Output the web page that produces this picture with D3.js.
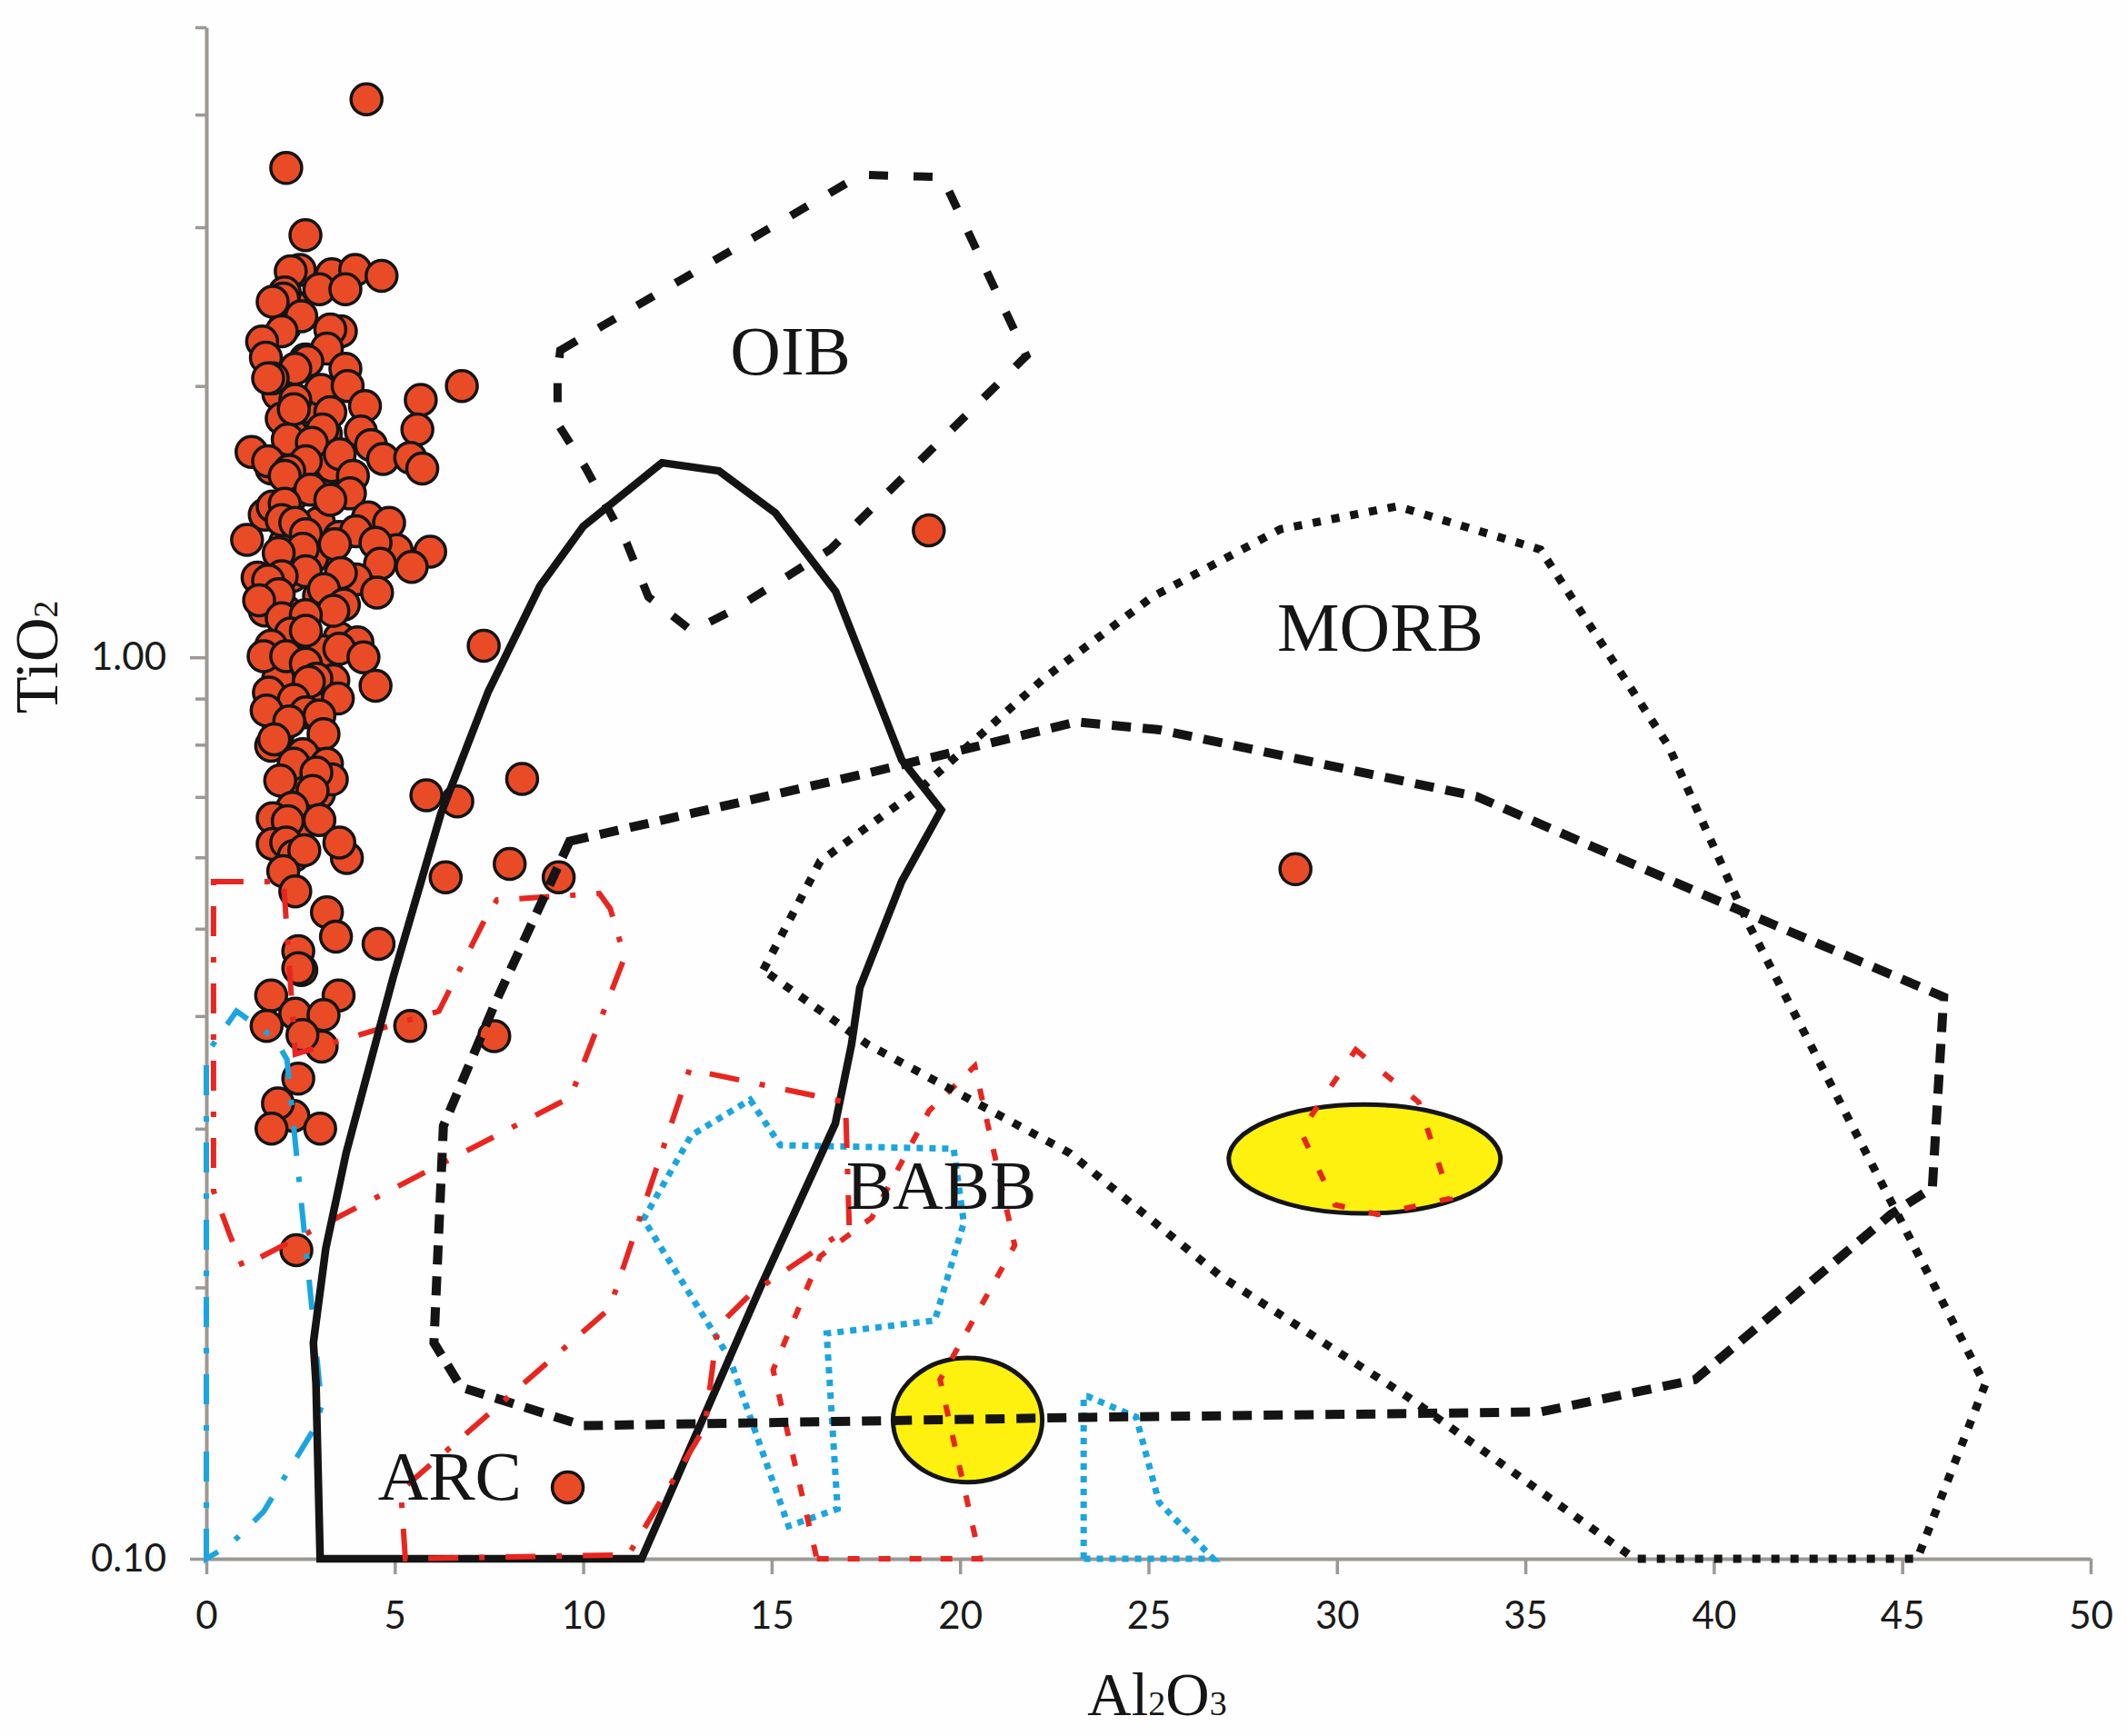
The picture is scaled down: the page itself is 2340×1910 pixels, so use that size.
<!DOCTYPE html>
<html>
<head>
<meta charset="utf-8">
<script src="https://cdn.jsdelivr.net/npm/d3@7"></script>
<style>
html, body { margin: 0; padding: 0; background: #fefefe; }
svg { display: block; }
</style>
</head>
<body>
<script>
// samples, [Al2O3, TiO2]. the first rows sit at the back of the cluster
var samples = [
	[2.27,1.41],[2.99,1.41],[2.09,1.34],[2.81,1.29],[3.53,1.36],[2.27,1.23],[2.99,1.17],[3.71,1.21],[2.09,1.127],[1.55,1.127],
	[2.63,1.05],[2.16,1.03],[3.53,1.05],[3.09,1.016],[1.91,0.948],[2.99,0.916],[2.45,0.869],[1.91,0.825],[2.81,0.77],[2.27,0.718],
	[2.45,0.647],[1.91,0.625],[2.99,0.706],[2.63,2.14],[1.91,1.96],[2.63,1.895],[2.27,1.77],[3.17,1.77],[1.73,1.62],[2.63,1.59],
	[3.35,1.62],[2.27,1.51],[3.17,1.51],[1.55,1.44],[2.27,2.46],[2.09,2.33],
	[4.25,4.16],[2.12,3.49],[2.63,2.94],[2.48,2.69],[2.24,2.68],[3.33,2.66],[3.95,2.69],[4.65,2.65],[3.0,2.56],[3.69,2.56],
	[2.08,2.54],[2.04,2.50],[1.76,2.48],[2.52,2.39],[2.0,2.30],[3.57,2.30],[3.29,2.31],[1.48,2.24],[3.2,2.20],[1.58,2.15],
	[2.68,2.13],[2.36,2.09],[3.69,2.09],[1.76,2.04],[1.64,2.04],[3.04,1.98],[3.75,2.00],[4.21,1.90],[5.69,1.93],[6.78,2.00],
	[2.36,1.93],[2.0,1.84],[2.32,1.885],[3.29,1.87],[3.08,1.79],[4.10,1.78],[5.60,1.79],[2.16,1.745],[2.80,1.73],[1.20,1.69],
	[1.64,1.65],[4.37,1.72],[4.69,1.66],[5.41,1.665],[5.73,1.62],[3.33,1.63],[3.54,1.68],[2.64,1.65],[2.2,1.61],[2.08,1.59],
	[3.89,1.59],[2.76,1.535],[3.81,1.52],[3.29,1.495],[1.76,1.47],[2.08,1.48],[4.29,1.43],[4.85,1.41],[3.97,1.38],[2.0,1.42],
	[2.36,1.41],[2.64,1.37],[1.08,1.35],[3.41,1.335],[5.05,1.315],[4.49,1.34],[5.94,1.31],[2.56,1.32],[1.92,1.305],[4.61,1.27],
	[5.45,1.26],[3.97,1.22],[3.57,1.24],[2.64,1.246],[2.0,1.23],[1.36,1.226],[1.64,1.217],[4.53,1.18],[3.12,1.19],[1.92,1.175],
	[1.40,1.157],[3.65,1.144],[3.37,1.126],[2.0,1.105],[2.64,1.114],[2.24,1.063],[2.64,1.07],[1.72,1.03],[1.52,1.003],[2.12,1.003],
	[2.64,0.984],[4.01,1.039],[3.53,1.022],[4.17,1.00],[4.49,0.93],[3.37,0.943],[2.92,0.947],[2.72,0.939],[3.49,0.90],[1.66,0.914],
	[2.32,0.897],[1.60,0.873],[2.64,0.869],[3.0,0.862],[2.2,0.849],[3.11,0.822],[1.72,0.798],[1.80,0.811],[2.56,0.781],[3.2,0.762],
	[2.32,0.762],[3.33,0.732],[2.92,0.745],[1.96,0.730],[2.82,0.711],[2.28,0.681],[1.76,0.663],[2.16,0.658],[3.0,0.660],[1.76,0.621],
	[2.12,0.623],[3.73,0.599],[3.53,0.623],[2.32,0.602],[2.60,0.611],[2.04,0.579],[2.36,0.550],[3.2,0.5215],[3.44,0.490],[4.57,0.481],
	[2.44,0.472],[2.52,0.450],[2.44,0.452],[1.72,0.4215],[3.51,0.4215],[2.36,0.4025],[3.11,0.401],[3.06,0.370],[1.60,0.390],[2.55,0.381],
	[2.44,0.341],[2.31,0.310],[1.90,0.320],[1.73,0.300],[3.02,0.300],[2.39,0.220],
	[7.36,1.03],[5.84,0.703],[6.66,0.692],[8.38,0.733],[8.05,0.590],[6.35,0.570],[9.35,0.570],[5.41,0.390],[7.64,0.380],
	[19.17,1.383],[28.9,0.582],[9.59,0.120]
]

// field outlines, [Al2O3, TiO2]
var arcField = [
	[3.02,0.10],[2.91,0.1565],[2.84,0.1736],[3.17,0.221],[3.71,0.282],[4.96,0.442],[6.22,0.670],[7.48,0.916],[8.85,1.199],[10.0,1.397],[12.09,1.644],
	[13.6,1.610],[15.1,1.446],[16.7,1.183],[18.45,0.770],[19.5,0.677],[18.45,0.564],[17.34,0.430],[17.12,0.372],[16.69,0.304],[14.68,0.199],[11.55,0.10]
]
var oibField = [
	[9.39,2.19],[17.37,3.43],[19.53,3.41],[21.76,2.16],[16.55,1.317],[13.96,1.127],[12.88,1.070],[11.73,1.167],[11.15,1.340],[10.07,1.621],[9.32,1.818],[9.32,2.067]
]
var morbField = [
	[14.78,0.450],[16.29,0.594],[18.99,0.718],[22.23,0.948],[25.1,1.167],[28.5,1.387],[31.6,1.471],[35.4,1.317],[38.8,0.797],[40.9,0.508],[47.2,0.156],
	[45.4,0.10],[37.9,0.10],[31.9,0.151],[26.9,0.206],[22.9,0.282],[17.55,0.372]
]
var babbField = [
	[9.64,0.625],[17.55,0.744],[23.1,0.848],[25.3,0.831],[33.7,0.701],[40.6,0.526],[46.1,0.420],[45.8,0.258],[44.7,0.241],[39.5,0.158],[35.4,0.1455],
	[23.3,0.1435],[10.0,0.1405],[6.76,0.155],[6.04,0.1736],[6.29,0.302],[7.66,0.413]
]
var redDashDotA = [
	[0.19,0.564],[2.05,0.564],[2.36,0.363],[6.17,0.405],[7.37,0.510],[7.71,0.538],[10.43,0.547],[10.72,0.526],[11.1,0.465],[9.66,0.325],[0.96,0.211],[0.60,0.230],[0.19,0.256]
]
var redDashDotB = [
	[5.28,0.10],[5.16,0.119],[10.7,0.1895],[12.82,0.349],[16.96,0.321],[17.06,0.233],[14.43,0.1965],[13.57,0.181],[13.23,0.140],[11.2,0.101]
]
var redDashC = [
	[16.2,0.10],[20.53,0.10],[19.47,0.158],[21.45,0.2227],[20.39,0.352],[19.18,0.314],[17.66,0.239],[16.29,0.2166],[15.04,0.162]
]
var redDashD = [
	[30.5,0.367],[32.17,0.321],[33.0,0.251],[31.08,0.241],[29.95,0.247],[29.04,0.298]
]
var blueDotE = [
	[14.43,0.323],[15.23,0.2876],[19.83,0.285],[20.1,0.236],[19.33,0.1838],[16.46,0.1778],[16.75,0.1136],[15.45,0.1087],[13.88,0.167],[11.6,0.238],[12.87,0.295]
]
var blueDotF = [
	[23.28,0.10],[23.28,0.1515],[23.37,0.1515],[24.67,0.1437],[25.28,0.1155],[26.72,0.10]
]
var blueDashDotG = [
	[0,0.10],[0,0.363],[0.80,0.405],[1.81,0.378],[2.14,0.358],[3.06,0.148],[2.92,0.1407],[1.52,0.1128],[0.67,0.104]
]

// yellow ellipses, as extents [xMin, xMax, yMin, yMax]
var ellipses = [
	[18.22,22.18,0.1216,0.167],
	[27.13,34.34,0.2416,0.319]
]

var xTicks = [0,5,10,15,20,25,30,35,40,45,50]
var yTicks = [5,4,3,2,1,0.9,0.8,0.7,0.6,0.5,0.4,0.3,0.2,0.1]
var fieldLabels = [
	{ name: "OIB", at: [15.5,2.06] },
	{ name: "MORB", at: [31.15,1.018] },
	{ name: "BABB", at: [19.5,0.2445] },
	{ name: "ARC", at: [6.46,0.1163] }
]

var width = 2340, height = 1910

var svg = d3.select("body").append("svg")
	.attr("width", width)
	.attr("height", height)
	.style("background", "#fefefe")

var x = d3.scaleLinear().domain([0, 50]).range([227, 2300])
var y = d3.scaleLog().domain([0.1, 5]).range([1715, 30])

// axes ===========================================================
var axisColor = "#9c9894"

var xAxis = svg.append("g")
	.attr("transform", "translate(0,1715)")
	.call(d3.axisBottom(x).tickValues(xTicks).tickSize(17).tickPadding(30).tickSizeOuter(0))
var yAxis = svg.append("g")
	.attr("transform", "translate(227,0)")
	.call(d3.axisLeft(y).tickValues(yTicks).tickSize(12).tickPadding(32).tickSizeOuter(0)
		.tickFormat(function(d) { return (d === 1 || d === 0.1) ? d3.format(".2f")(d) : "" }))

yAxis.selectAll(".tick line")
	.filter(function(d) { return d === 1 || d === 0.1 })
	.attr("x2", -18)

svg.selectAll("g .domain").attr("stroke", axisColor).attr("stroke-width", 4)
svg.selectAll("g .tick line").attr("stroke", axisColor).attr("stroke-width", 3.5)
svg.selectAll("g .tick text")
	.attr("fill", "#1a1a1a")
	.attr("font-family", "Lato")
	.attr("font-size", 42)

// axis titles, subscripts sit on the baseline in the original
var serif = "'Liberation Serif'"
function title(sel, main1, sub1, main2, sub2) {
	sel.attr("font-family", serif).attr("font-size", 67).attr("fill", "#151515").attr("text-anchor", "middle")
	sel.append("tspan").text(main1)
	sel.append("tspan").attr("font-size", 38).text(sub1)
	if (main2) {
		sel.append("tspan").text(main2)
		sel.append("tspan").attr("font-size", 38).text(sub2)
	}
}
svg.append("text").attr("x", 1273).attr("y", 1887).call(title, "Al", "2", "O", "3")
svg.append("text").attr("transform", "translate(63,723) rotate(-90)").call(title, "TiO", "2")

// samples go under the field outlines
svg.append("g").selectAll("circle")
	.data(samples)
	.enter().append("circle")
	.attr("cx", function(d) { return x(d[0]) })
	.attr("cy", function(d) { return y(d[1]) })
	.attr("r", 17)
	.attr("fill", "#e94b27")
	.attr("stroke", "#141414")
	.attr("stroke-width", 3.5)

svg.append("g").selectAll("ellipse")
	.data(ellipses)
	.enter().append("ellipse")
	.attr("cx", function(d) { return (x(d[0]) + x(d[1])) / 2 })
	.attr("cy", function(d) { return (y(d[2]) + y(d[3])) / 2 })
	.attr("rx", function(d) { return (x(d[1]) - x(d[0])) / 2 })
	.attr("ry", function(d) { return (y(d[2]) - y(d[3])) / 2 })
	.attr("fill", "#fff10f")
	.attr("stroke", "#141414")
	.attr("stroke-width", 5)

// field outlines ===========================================================
var outline = d3.line()
	.x(function(d) { return x(d[0]) })
	.y(function(d) { return y(d[1]) })
	.curve(d3.curveLinearClosed)

var red = "#e8261f", blue = "#1aa5e0", black = "#141414"
var dashDot = "33 23 6 23"

var fields = [
	{ points: redDashDotA, color: red, w: 6, dash: dashDot },
	{ points: blueDashDotG, color: blue, w: 6, dash: dashDot },
	{ points: blueDotE, color: blue, w: 7, dash: "7 7" },
	{ points: blueDotF, color: blue, w: 7, dash: "7 7" },
	{ points: redDashC, color: red, w: 6, dash: "13 21" },
	{ points: redDashD, color: red, w: 6, dash: "13 27" },
	{ points: morbField, color: black, w: 9, dash: "9 12" },
	{ points: oibField, color: black, w: 9, dash: "21 28" },
	{ points: babbField, color: black, w: 10, dash: "21 13" },
	{ points: arcField, color: black, w: 8.5, dash: null },
	{ points: redDashDotB, color: red, w: 6, dash: dashDot }
]

svg.append("g").selectAll("path")
	.data(fields)
	.enter().append("path")
	.attr("d", function(d) { return outline(d.points) })
	.attr("fill", "none")
	.attr("stroke", function(d) { return d.color })
	.attr("stroke-width", function(d) { return d.w })
	.attr("stroke-dasharray", function(d) { return d.dash })

svg.append("g").selectAll("text")
	.data(fieldLabels)
	.enter().append("text")
	.attr("x", function(d) { return x(d.at[0]) })
	.attr("y", function(d) { return y(d.at[1]) })
	.attr("text-anchor", "middle")
	.attr("font-family", serif)
	.attr("font-size", 77)
	.attr("fill", "#151515")
	.text(function(d) { return d.name })
</script>
</body>
</html>
